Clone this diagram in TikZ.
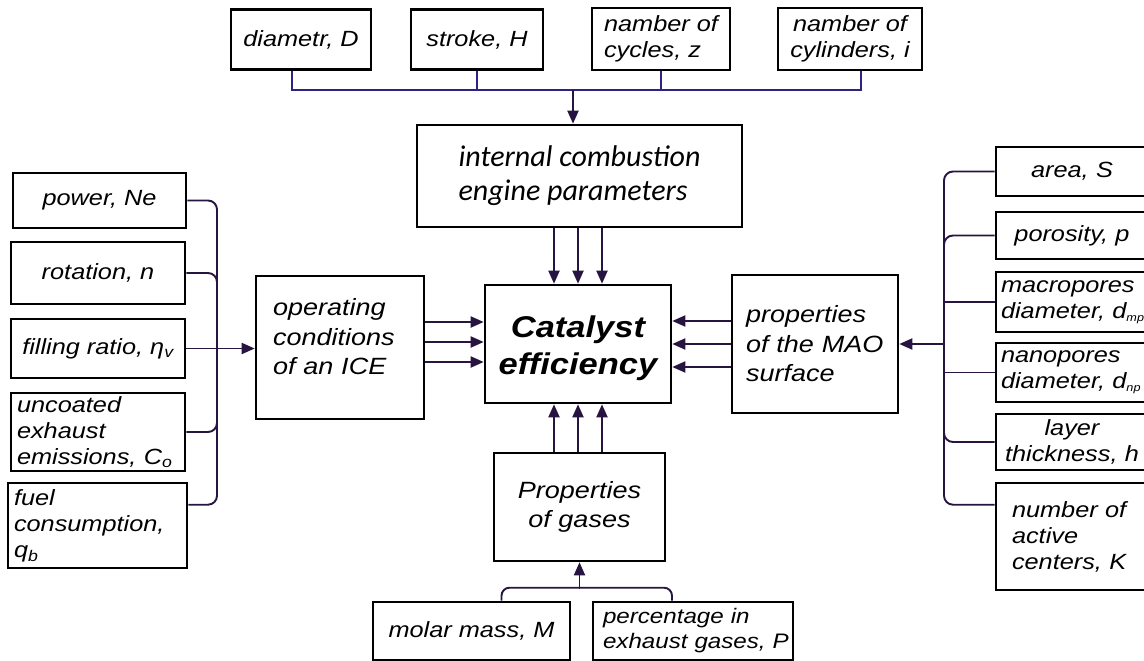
\documentclass[tikz,border=0pt]{standalone}
\usepackage{fontspec}
\setmainfont{Liberation Sans}
\newfontfamily\leaffont{Liberation Sans}[FakeStretch=1.15]
\newfontfamily\icefont{Carlito}
\usetikzlibrary{arrows.meta,calc}
\definecolor{lineC}{RGB}{40,20,65}
\definecolor{busC}{RGB}{45,35,130}
\newcommand{\tinysub}[1]{\textsubscript{\fontsize{11}{11}\selectfont #1}}
\begin{document}
\begin{tikzpicture}[x=1pt,y=-1pt,
  box/.style={draw=black, line width=2.6pt, inner sep=0pt, anchor=center},
  leaf/.style={box, font=\leaffont\itshape\fontsize{22}{26}\selectfont},
  mainbox/.style={box, font=\leaffont\itshape\fontsize{23.5}{29.5}\selectfont},
  conn/.style={draw=lineC, line width=1.9pt},
  arr/.style={conn, -{Triangle[length=13pt,width=11pt]}}
]
\useasboundingbox (0,0) rectangle (1144,661);
\clip (0,0) rectangle (1144,661);

% top leaves
\node[leaf, minimum width=140pt, minimum height=60pt, align=center] (diam) at (301,39.5) {diametr, D};
\node[leaf, minimum width=132pt, minimum height=60pt, align=center] (strk) at (477,39.5) {stroke, H};
\node[leaf, minimum width=138pt, minimum height=62pt, align=left] (cyc) at (661,39) {namber of\\cycles, z};
\node[leaf, minimum width=144pt, minimum height=62pt, align=center] (cyl) at (850,39) {namber of\\cylinders, i};

% central boxes
\node[box, minimum width=325pt, minimum height=102pt, align=left, font=\icefont\itshape\fontsize{30}{34}\selectfont] (ice) at (579.5,176) {internal combustion\\engine parameters};
\node[box, minimum width=186pt, minimum height=118pt, align=center, font=\leaffont\bfseries\itshape\fontsize{30}{37}\selectfont] (cat) at (578,344) {\\[-6pt]Catalyst\\efficiency};
\node[mainbox, minimum width=168pt, minimum height=143pt, text width=134pt, align=left] (op) at (340,347.5) {operating\\conditions\\of an ICE\\[-8pt]\mbox{}};
\node[mainbox, minimum width=166pt, minimum height=138pt, text width=138pt, align=left] (mao) at (815,344) {properties\\of the MAO\\surface};
\node[mainbox, minimum width=171pt, minimum height=108pt, align=center] (gas) at (579.5,507) {Properties\\of gases};

% left leaves
\node[leaf, minimum width=173pt, minimum height=55pt, align=center] (pow) at (99.5,200.5) {power, Ne};
\node[leaf, minimum width=174pt, minimum height=62pt, align=center] (rot) at (98,273) {rotation, n};
\node[leaf, minimum width=174pt, minimum height=59pt, align=center] (fil) at (98,348.5) {filling ratio, η\textsubscript{v}};
\node[leaf, minimum width=174pt, minimum height=78pt, text width=162pt, align=left] (unc) at (98,432) {uncoated\\exhaust\\\mbox{emissions, C\textsubscript{o}}};
\node[leaf, minimum width=179pt, minimum height=85pt, text width=167pt, align=left] (fuel) at (97.5,525.5) {fuel\\consumption,\\q\textsubscript{b}};

% right leaves
\node[leaf, minimum width=152pt, minimum height=49pt, text width=142pt, align=center] (area) at (1072,171.5) {area, S};
\node[leaf, minimum width=152pt, minimum height=47pt, text width=142pt, align=center] (poro) at (1072,235.5) {porosity, p};
\node[leaf, minimum width=152pt, minimum height=60pt, text width=142pt, align=left] (macro) at (1072,302) {macropores\\\mbox{diameter, d\tinysub{mp}}};
\node[leaf, minimum width=152pt, minimum height=59pt, text width=142pt, align=left] (nano) at (1072,372.5) {nanopores\\\mbox{diameter, d\tinysub{np}}};
\node[leaf, minimum width=152pt, minimum height=56pt, text width=142pt, align=center] (layer) at (1072,442) {layer\\\mbox{thickness, h}};
\node[leaf, minimum width=152pt, minimum height=107pt, text width=120pt, align=left] (act) at (1072,536.5) {number of\\active\\centers, K};

% bottom leaves
\node[leaf, minimum width=197pt, minimum height=58pt, align=center] (mol) at (471.5,631) {molar mass, M};
\node[leaf, minimum width=200pt, minimum height=58pt, text width=180pt, align=left, font=\leaffont\itshape\fontsize{21}{25}\selectfont] (perc) at (693,631) {percentage in\\\mbox{exhaust gases, P}};

% top bus
\coordinate (tb) at (573,90);
\draw[conn, draw=busC] ([xshift=-9pt]diam.south) -- ([xshift=-9pt]diam.south |- tb) -- ([xshift=11pt]cyl.south |- tb) -- ([xshift=11pt]cyl.south);
\draw[conn, draw=busC] (strk.south) -- (strk.south |- tb);
\draw[conn, draw=busC] (cyc.south) -- (cyc.south |- tb);
\draw[arr] (tb) -- (tb |- ice.north);

% arrows into catalyst
\foreach \d/\n in {-24/a,0/b,24/c}{
  \coordinate (ct\n) at ($(cat.north)+(\d,0)$);
  \coordinate (cb\n) at ($(cat.south)+(\d,0)$);
  \draw[arr] (ct\n |- ice.south) -- (ct\n);
  \draw[arr] (cb\n |- gas.north) -- (cb\n);
}
\foreach \d/\n in {-22/a,-2/b,18/c}{
  \coordinate (cl\n) at ($(cat.west)+(0,\d)$);
  \draw[arr] (cl\n -| op.east) -- (cl\n);
}
\foreach \d/\n in {-23/a,0/b,23/c}{
  \coordinate (cr\n) at ($(cat.east)+(0,\d)$);
  \draw[arr] (cr\n -| mao.west) -- (cr\n);
}

% left bus
\coordinate (bl) at (217,0);
\coordinate (fuelc) at ($(fuel.north east)+(0,23)$);
\draw[conn, rounded corners=9pt] (pow.east) -| (bl |- fuelc) -- (fuelc);
\draw[conn, rounded corners=9pt] (rot.east) -| (bl |- fil.east);
\draw[conn, rounded corners=9pt] (unc.east) -| (bl |- fil.east);
\draw[arr] (fil.east) -- (fil.east -| op.west);

% right bus
\coordinate (br) at (944,0);
\coordinate (actc) at ($(act.north west)+(0,23)$);
\draw[conn, rounded corners=9pt] (area.west) -| (br |- actc) -- (actc);
\draw[conn, rounded corners=9pt] (poro.west) -| (br |- nano.west);
\draw[conn, rounded corners=9pt] (layer.west) -| (br |- nano.west);
\draw[conn] (macro.west) -- (macro.west -| br);
\draw[conn] (nano.west) -- (nano.west -| br);
\draw[arr] (mao.east -| br) -- (mao.east);

% bottom
\coordinate (gj) at (gas.south |- 0,589);
\draw[conn, rounded corners=8pt] ($(mol.north)+(30,0)$) |- ($(perc.north)+(-21,-13)$) -- ($(perc.north)+(-21,0)$);
\draw[arr] (gj) -- (gas.south);
\end{tikzpicture}
\end{document}
